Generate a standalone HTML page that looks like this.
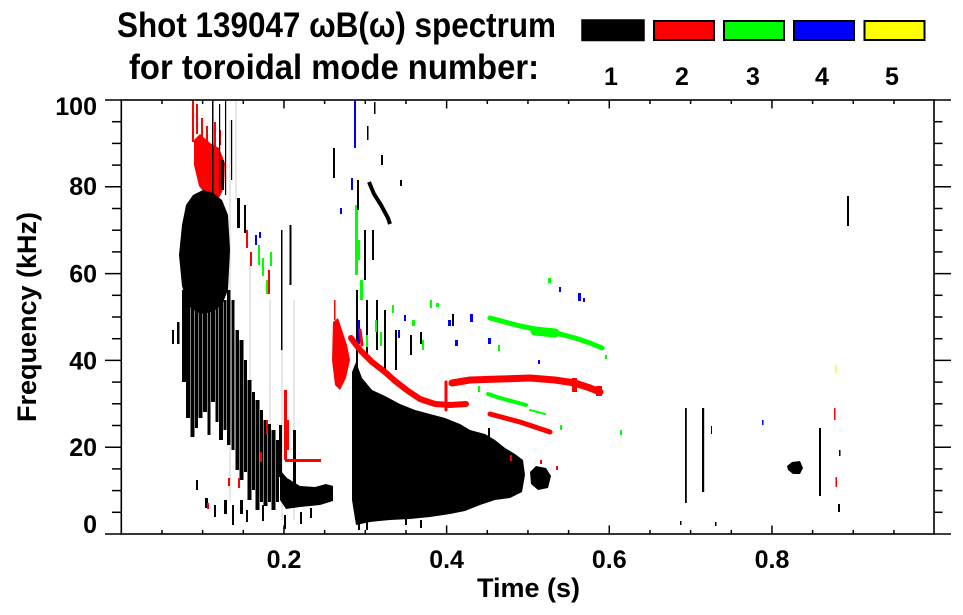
<!DOCTYPE html>
<html><head><meta charset="utf-8"><style>
html,body{margin:0;padding:0;background:#fff;}
svg{display:block;}
text{font-family:"Liberation Sans",Arial,sans-serif;font-weight:bold;fill:#000;}
</style></head><body>
<svg width="963" height="615" viewBox="0 0 963 615" xmlns="http://www.w3.org/2000/svg">
<rect x="0" y="0" width="963" height="615" fill="#fff"/>

<!-- Title -->
<text x="117" y="37" font-size="35" textLength="439" lengthAdjust="spacingAndGlyphs">Shot 139047 ωB(ω) spectrum</text>
<text x="129" y="79" font-size="35" textLength="410" lengthAdjust="spacingAndGlyphs">for toroidal mode number:</text>

<!-- Legend -->
<rect x="582" y="20" width="62" height="20.5" fill="#000" stroke="#000" stroke-width="1.5"/>
<rect x="654" y="21" width="60" height="19" fill="#ff0000" stroke="#000" stroke-width="2"/>
<rect x="724" y="21" width="60" height="19" fill="#00ff00" stroke="#000" stroke-width="2"/>
<rect x="794" y="21" width="60" height="19" fill="#0000ff" stroke="#000" stroke-width="2"/>
<rect x="864.5" y="21" width="60" height="19" fill="#ffff00" stroke="#000" stroke-width="2"/>
<g font-size="25" text-anchor="middle">
<text x="611" y="85">1</text>
<text x="682" y="85">2</text>
<text x="753" y="85">3</text>
<text x="822" y="85">4</text>
<text x="892" y="85">5</text>
</g>

<!-- DATA -->
<g>
<!-- light gray vertical lines -->
<g stroke="#cfcfcf" stroke-width="1">
<line x1="230" y1="120" x2="230" y2="500"/>
<line x1="250" y1="260" x2="250" y2="480"/>
<line x1="270" y1="300" x2="270" y2="500"/>
<line x1="282" y1="300" x2="282" y2="520"/>
<line x1="294" y1="300" x2="294" y2="520"/>
<line x1="236" y1="100" x2="236" y2="200"/>
</g>

<!-- red top patch -->
<g fill="#ff0000">
<polygon points="194,140 200,134 210,143 219,148 225,163 224,188 218,200 207,196 199,186 194,165"/>
<rect x="192" y="100" width="2" height="42"/>
<rect x="196" y="104" width="2" height="30"/>
<rect x="201" y="118" width="2" height="20"/>
<rect x="206" y="126" width="2" height="18"/>
<rect x="214" y="122" width="2" height="26"/>
<rect x="219" y="130" width="2" height="15"/>
</g>

<!-- black upper thin lines near left blob -->
<g fill="#000">
<rect x="212" y="100" width="1.5" height="100"/>
<rect x="219" y="104" width="1.2" height="90"/>
<rect x="225" y="100" width="1.2" height="95"/>
<rect x="231" y="120" width="1.2" height="60"/>
<rect x="237" y="198" width="3" height="30"/>
<rect x="244" y="205" width="2" height="28"/>
<rect x="221" y="160" width="3" height="30"/>
</g>

<!-- black main left blob -->
<g fill="#000">
<polygon points="182,225 186,205 193,195 203,190 213,193 222,200 228,215 230,250 228,290 222,305 212,312 200,314 188,306 182,286 179,255"/>
<rect x="177" y="322" width="2.5" height="22"/>
<rect x="172" y="330" width="2" height="14"/>
<rect x="182" y="290" width="4" height="92"/>
<rect x="186" y="300" width="4" height="118"/>
<rect x="190.5" y="290" width="4" height="147"/>
<rect x="195" y="300" width="3" height="128"/>
<rect x="198.5" y="298" width="4" height="120"/>
<rect x="203" y="290" width="4" height="122"/>
<rect x="207.5" y="300" width="3" height="135"/>
<rect x="211" y="298" width="4" height="104"/>
<rect x="215.5" y="300" width="3" height="122"/>
<rect x="219" y="290" width="4" height="150"/>
<rect x="223.5" y="300" width="3" height="130"/>
<rect x="227" y="290" width="3.5" height="155"/>
<rect x="231.5" y="300" width="3" height="150"/>
</g>

<!-- lower streak region t 0.13-0.2 -->
<g fill="#000">
<rect x="235.5" y="330" width="3.5" height="140"/>
<rect x="239.5" y="340" width="4" height="140"/>
<rect x="244" y="360" width="3" height="112"/>
<rect x="247.5" y="380" width="4" height="120"/>
<rect x="252" y="392" width="3" height="98"/>
<rect x="255.5" y="400" width="4" height="110"/>
<rect x="260" y="410" width="3" height="92"/>
<rect x="263.5" y="420" width="4" height="86"/>
<rect x="268" y="424" width="3" height="78"/>
<rect x="271.5" y="430" width="4" height="80"/>
<rect x="276" y="440" width="3" height="62"/>
<rect x="279" y="425" width="3" height="52"/>
<rect x="281" y="230" width="1.5" height="120"/>
<rect x="289.5" y="225" width="2" height="60"/>
<rect x="293" y="430" width="3" height="60"/>
</g>
<!-- scattered bottom bits -->
<g fill="#000">
<rect x="205" y="498" width="3" height="10"/>
<rect x="214" y="505" width="2" height="12"/>
<rect x="224" y="500" width="3" height="14"/>
<rect x="232" y="505" width="2" height="20"/>
<rect x="240" y="500" width="3" height="14"/>
<rect x="246" y="510" width="2" height="12"/>
<rect x="262" y="505" width="2" height="16"/>
<rect x="284" y="515" width="2" height="14"/>
<rect x="300" y="512" width="2" height="12"/>
<rect x="310" y="508" width="2" height="10"/>
<rect x="196" y="480" width="2" height="10"/>
</g>

<!-- 10 kHz band -->
<g fill="#000">
<polygon points="280,470 287,478 300,486 315,487 326,484 333,486 333,501 320,505 300,507 286,509 280,500"/>
</g>

<!-- red near 0.2 -->
<g fill="#ff0000">
<rect x="284" y="390" width="3" height="70"/>
<rect x="287" y="420" width="2" height="30"/>
<rect x="285" y="459" width="36" height="3"/>
<rect x="266" y="420" width="2" height="14"/>
<rect x="260" y="452" width="2" height="10"/>
<rect x="238" y="478" width="2" height="10"/>
<rect x="228" y="478" width="2" height="8"/>
<rect x="207" y="503" width="2" height="6"/>
<rect x="246" y="230" width="2" height="18"/>
<rect x="250" y="252" width="2" height="14"/>
<rect x="268" y="270" width="2" height="24"/>
</g>
<!-- green/blue near 0.15 -->
<g>
<rect x="258" y="245" width="2" height="20" fill="#00ff00"/>
<rect x="262" y="258" width="2" height="18" fill="#00ff00"/>
<rect x="270" y="252" width="2" height="14" fill="#00ff00"/>
<rect x="266" y="280" width="2" height="14" fill="#00ff00"/>
<rect x="255" y="235" width="2" height="10" fill="#0000ff"/>
<rect x="259" y="232" width="2" height="6" fill="#0000ff"/>
</g>

<!-- red cluster near 0.27 -->
<g fill="#ff0000">
<polygon points="333,322 338,318 342,330 347,345 350,360 346,378 340,390 335,385 332,360"/>
<rect x="334" y="300" width="1.5" height="20"/>
</g>

<!-- misc upper features near 0.29 -->
<g>
<rect x="354" y="100" width="2" height="48" fill="#0000ff"/>
<rect x="355" y="205" width="3" height="70" fill="#00ff00"/>
<rect x="358" y="240" width="2" height="20" fill="#00ff00"/>
<rect x="360" y="280" width="3" height="20" fill="#00ff00"/>
<rect x="333" y="148" width="2" height="30" fill="#000"/>
<rect x="351" y="178" width="2" height="12" fill="#0000ff"/>
<rect x="340" y="208" width="2" height="6" fill="#0000ff"/>
<polyline points="369,182 374,194 381,205 388,218 390,224" fill="none" stroke="#000" stroke-width="4"/>
<rect x="357" y="180" width="2" height="30" fill="#000"/>
<rect x="364" y="230" width="2" height="50" fill="#000"/>
<rect x="372" y="230" width="2" height="30" fill="#000"/>
<rect x="381" y="155" width="2" height="10" fill="#000"/>
<rect x="356" y="290" width="2" height="80" fill="#000"/>
<rect x="366" y="300" width="2" height="60" fill="#000"/>
<rect x="376" y="300" width="2" height="50" fill="#000"/>
<rect x="384" y="310" width="2" height="60" fill="#000"/>
<rect x="395" y="330" width="2" height="40" fill="#000"/>
<rect x="410" y="335" width="2" height="20" fill="#000"/>
<rect x="420" y="332" width="2" height="12" fill="#000"/>
<rect x="452" y="314" width="2" height="12" fill="#000"/>
<rect x="374" y="102" width="1.5" height="12" fill="#000"/>
<rect x="367" y="126" width="1.5" height="14" fill="#000"/>
<rect x="400" y="180" width="2" height="6" fill="#000"/>
<rect x="358" y="320" width="2" height="24" fill="#0000ff"/>
<rect x="366" y="335" width="2" height="12" fill="#00ff00"/>
<rect x="375" y="320" width="2" height="12" fill="#00ff00"/>
<rect x="380" y="332" width="2" height="14" fill="#00ff00"/>
<rect x="392" y="305" width="2" height="8" fill="#00ff00"/>
<rect x="398" y="330" width="2" height="8" fill="#0000ff"/>
<rect x="404" y="315" width="2" height="6" fill="#0000ff"/>
<rect x="412" y="320" width="3" height="6" fill="#00ff00"/>
<rect x="430" y="300" width="2" height="8" fill="#00ff00"/>
<rect x="436" y="303" width="3" height="4" fill="#00ff00"/>
<rect x="422" y="340" width="2" height="10" fill="#00ff00"/>
<rect x="448" y="320" width="3" height="6" fill="#0000ff"/>
<rect x="455" y="340" width="3" height="6" fill="#0000ff"/>
<rect x="470" y="314" width="3" height="8" fill="#0000ff"/>
<rect x="488" y="338" width="3" height="6" fill="#0000ff"/>
<rect x="498" y="345" width="2" height="6" fill="#00ff00"/>
<rect x="548" y="278" width="3" height="5" fill="#00ff00"/>
<rect x="559" y="287" width="2" height="5" fill="#0000ff"/>
<rect x="578" y="293" width="3" height="8" fill="#0000ff"/>
<rect x="583" y="298" width="2" height="4" fill="#0000ff"/>
<rect x="538" y="360" width="2" height="4" fill="#0000ff"/>
</g>

<!-- main lower black region -->
<g fill="#000">
<polygon points="352,372 356,362 362,378 372,390 385,396 400,404 415,410 430,414 445,418 460,424 470,430 485,434 495,440 505,448 515,454 523,460 525,475 522,492 510,498 495,500 480,505 465,511 450,514 430,517 410,519 390,520 370,522 356,525 352,500"/>
<polygon points="530,472 536,466 546,468 551,476 548,488 538,490 531,484"/>
<rect x="358" y="520" width="2" height="10"/>
<rect x="366" y="518" width="2" height="12"/>
<rect x="405" y="515" width="2" height="10"/>
<rect x="420" y="520" width="2" height="8"/>
<rect x="478" y="436" width="2" height="10"/>
<rect x="488" y="428" width="2" height="12"/>
</g>

<!-- red n=2 curves -->
<g fill="none" stroke="#ff0000" stroke-linejoin="round" stroke-linecap="round">
<polyline points="351,338 360,350 372,362 385,372 395,381 408,391 420,399 435,404 450,405 466,404" stroke-width="6"/>
<polyline points="452,383 470,380 500,379 530,378 555,380 575,383 590,388 600,392" stroke-width="7"/>
<polyline points="446,382 446,410" stroke-width="3"/>
<polyline points="490,414 505,418 520,422 535,427 550,432" stroke-width="5"/>
<polyline points="360,330 362,345" stroke-width="3"/>
</g>
<g fill="#ff0000">
<rect x="572" y="378" width="5" height="14"/>
<rect x="596" y="386" width="6" height="10"/>
<rect x="510" y="455" width="2" height="6"/>
<rect x="540" y="460" width="2" height="4"/>
<rect x="556" y="466" width="2" height="4"/>
</g>

<!-- green n=3 lines -->
<g fill="none" stroke="#00ff00" stroke-linejoin="round" stroke-linecap="round">
<polyline points="490,318 505,322 520,326 540,330 560,334 575,338 590,343 602,348" stroke-width="5"/>
<polyline points="535,331 555,333" stroke-width="9"/>
<polyline points="488,394 500,398 515,402 526,405" stroke-width="4"/>
<polyline points="530,410 545,414" stroke-width="2"/>
</g>
<g fill="#00ff00">
<rect x="478" y="386" width="2" height="6"/>
<rect x="560" y="425" width="2" height="5"/>
<rect x="620" y="430" width="2" height="5"/>
<rect x="605" y="355" width="2" height="4"/>
</g>

<!-- right side features -->
<g fill="#000">
<rect x="685" y="408" width="1.8" height="95"/>
<rect x="702" y="408" width="2.2" height="84"/>
<rect x="711" y="426" width="1" height="8"/>
<polygon points="787,466 792,462 800,461 803,468 800,474 793,474 788,470"/>
<rect x="819" y="428" width="2" height="68"/>
<rect x="838" y="504" width="2" height="8"/>
<rect x="839" y="450" width="1.5" height="6"/>
<rect x="847" y="196" width="2" height="30"/>
<rect x="680" y="521" width="1.5" height="4"/>
<rect x="715" y="522" width="1.5" height="4"/>
</g>
<rect x="835.5" y="477" width="1.5" height="10" fill="#ff0000"/>
<rect x="834" y="408" width="1.5" height="12" fill="#ff0000"/>
<rect x="835" y="365" width="1.5" height="8" fill="#ffff00"/>
<rect x="762" y="420" width="1.5" height="5" fill="#0000ff"/>
</g>

<!-- Axes box -->
<rect x="121.3" y="100" width="812.7" height="434" fill="none" stroke="#000" stroke-width="1.6"/>

<!-- left ticks (outward) -->
<g stroke="#000" stroke-width="1.5">
<line x1="105" y1="534" x2="121.3" y2="534"/>
<line x1="105" y1="447.2" x2="121.3" y2="447.2"/>
<line x1="105" y1="360.4" x2="121.3" y2="360.4"/>
<line x1="105" y1="273.6" x2="121.3" y2="273.6"/>
<line x1="105" y1="186.8" x2="121.3" y2="186.8"/>
<line x1="105" y1="100" x2="121.3" y2="100"/>
<line x1="112" y1="512.3" x2="121.3" y2="512.3"/>
<line x1="112" y1="490.6" x2="121.3" y2="490.6"/>
<line x1="112" y1="468.9" x2="121.3" y2="468.9"/>
<line x1="112" y1="425.5" x2="121.3" y2="425.5"/>
<line x1="112" y1="403.8" x2="121.3" y2="403.8"/>
<line x1="112" y1="382.1" x2="121.3" y2="382.1"/>
<line x1="112" y1="338.7" x2="121.3" y2="338.7"/>
<line x1="112" y1="317" x2="121.3" y2="317"/>
<line x1="112" y1="295.3" x2="121.3" y2="295.3"/>
<line x1="112" y1="251.9" x2="121.3" y2="251.9"/>
<line x1="112" y1="230.2" x2="121.3" y2="230.2"/>
<line x1="112" y1="208.5" x2="121.3" y2="208.5"/>
<line x1="112" y1="165.1" x2="121.3" y2="165.1"/>
<line x1="112" y1="143.4" x2="121.3" y2="143.4"/>
<line x1="112" y1="121.7" x2="121.3" y2="121.7"/>
</g>
<!-- right ticks (outward) -->
<g stroke="#000" stroke-width="1.5">
<line x1="934" y1="534" x2="951" y2="534"/>
<line x1="934" y1="447.2" x2="951" y2="447.2"/>
<line x1="934" y1="360.4" x2="951" y2="360.4"/>
<line x1="934" y1="273.6" x2="951" y2="273.6"/>
<line x1="934" y1="186.8" x2="951" y2="186.8"/>
<line x1="934" y1="100" x2="951" y2="100"/>
<line x1="934" y1="512.3" x2="942.5" y2="512.3"/>
<line x1="934" y1="490.6" x2="942.5" y2="490.6"/>
<line x1="934" y1="468.9" x2="942.5" y2="468.9"/>
<line x1="934" y1="425.5" x2="942.5" y2="425.5"/>
<line x1="934" y1="403.8" x2="942.5" y2="403.8"/>
<line x1="934" y1="382.1" x2="942.5" y2="382.1"/>
<line x1="934" y1="338.7" x2="942.5" y2="338.7"/>
<line x1="934" y1="317" x2="942.5" y2="317"/>
<line x1="934" y1="295.3" x2="942.5" y2="295.3"/>
<line x1="934" y1="251.9" x2="942.5" y2="251.9"/>
<line x1="934" y1="230.2" x2="942.5" y2="230.2"/>
<line x1="934" y1="208.5" x2="942.5" y2="208.5"/>
<line x1="934" y1="165.1" x2="942.5" y2="165.1"/>
<line x1="934" y1="143.4" x2="942.5" y2="143.4"/>
<line x1="934" y1="121.7" x2="942.5" y2="121.7"/>
</g>
<!-- bottom ticks (inward) and top ticks (inward) -->
<g stroke="#000" stroke-width="1.5">
<line x1="161.97" y1="534" x2="161.97" y2="530"/><line x1="161.97" y1="100" x2="161.97" y2="104"/>
<line x1="202.63" y1="534" x2="202.63" y2="530"/><line x1="202.63" y1="100" x2="202.63" y2="104"/>
<line x1="243.3" y1="534" x2="243.3" y2="530"/><line x1="243.3" y1="100" x2="243.3" y2="104"/>
<line x1="283.96" y1="534" x2="283.96" y2="525.5"/><line x1="283.96" y1="100" x2="283.96" y2="108.5"/>
<line x1="324.63" y1="534" x2="324.63" y2="530"/><line x1="324.63" y1="100" x2="324.63" y2="104"/>
<line x1="365.3" y1="534" x2="365.3" y2="530"/><line x1="365.3" y1="100" x2="365.3" y2="104"/>
<line x1="405.96" y1="534" x2="405.96" y2="530"/><line x1="405.96" y1="100" x2="405.96" y2="104"/>
<line x1="446.62" y1="534" x2="446.62" y2="525.5"/><line x1="446.62" y1="100" x2="446.62" y2="108.5"/>
<line x1="487.3" y1="534" x2="487.3" y2="530"/><line x1="487.3" y1="100" x2="487.3" y2="104"/>
<line x1="527.95" y1="534" x2="527.95" y2="530"/><line x1="527.95" y1="100" x2="527.95" y2="104"/>
<line x1="568.6" y1="534" x2="568.6" y2="530"/><line x1="568.6" y1="100" x2="568.6" y2="104"/>
<line x1="609.28" y1="534" x2="609.28" y2="525.5"/><line x1="609.28" y1="100" x2="609.28" y2="108.5"/>
<line x1="649.95" y1="534" x2="649.95" y2="530"/><line x1="649.95" y1="100" x2="649.95" y2="104"/>
<line x1="690.6" y1="534" x2="690.6" y2="530"/><line x1="690.6" y1="100" x2="690.6" y2="104"/>
<line x1="731.28" y1="534" x2="731.28" y2="530"/><line x1="731.28" y1="100" x2="731.28" y2="104"/>
<line x1="771.94" y1="534" x2="771.94" y2="525.5"/><line x1="771.94" y1="100" x2="771.94" y2="108.5"/>
<line x1="812.6" y1="534" x2="812.6" y2="530"/><line x1="812.6" y1="100" x2="812.6" y2="104"/>
<line x1="853.27" y1="534" x2="853.27" y2="530"/><line x1="853.27" y1="100" x2="853.27" y2="104"/>
<line x1="893.93" y1="534" x2="893.93" y2="530"/><line x1="893.93" y1="100" x2="893.93" y2="104"/>
</g>

<!-- Y tick labels -->
<g font-size="25" text-anchor="end">
<text x="97" y="115">100</text>
<text x="97" y="195">80</text>
<text x="97" y="282.5">60</text>
<text x="97" y="369.5">40</text>
<text x="97" y="456">20</text>
<text x="97" y="533">0</text>
</g>
<!-- X tick labels -->
<g font-size="25" text-anchor="middle">
<text x="284" y="568">0.2</text>
<text x="446.6" y="568">0.4</text>
<text x="609.3" y="568">0.6</text>
<text x="772" y="568">0.8</text>
</g>
<text x="477" y="597" font-size="27" textLength="103" lengthAdjust="spacingAndGlyphs">Time (s)</text>
<text transform="translate(36,317) rotate(-90)" x="0" y="0" font-size="27" text-anchor="middle">Frequency (kHz)</text>
</svg>
</body></html>
